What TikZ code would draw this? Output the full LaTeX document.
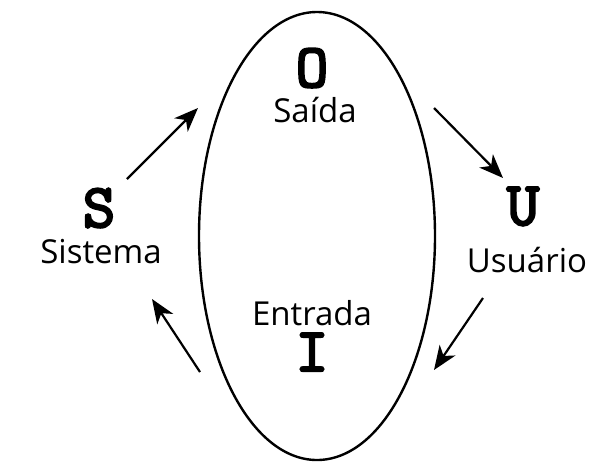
\documentclass[tikz,border=0pt]{standalone}
\usepackage{fontspec}
\setmainfont{Open Sans}
\newfontfamily\letterfont{lmmono10-regular.otf}[FakeBold=3.5]
\usetikzlibrary{arrows.meta}
\tikzset{
  letter/.style={font=\fontsize{62}{62}\selectfont\letterfont, inner sep=0pt,
    anchor=base, text height=33pt, text depth=0pt},
  word/.style={font=\fontsize{33}{33}\selectfont, inner sep=0pt, anchor=base,
    text depth=0pt},
  flow/.style={line width=2.2pt, -{Stealth[length=24pt,width=19pt,inset=7pt]}},
}
\begin{document}
\begin{tikzpicture}[x=1pt,y=-1pt]
  \useasboundingbox (0,0) rectangle (593,464);
  \draw[line width=2.4pt] (317,236) ellipse [x radius=118, y radius=224];
  % output
  \node[letter] (o) at (312,87) {O};
  \node[word] (sai) at (315,122) {Saída};
  % system
  \node[letter] (s) at (99,227) {S};
  \node[word] (sis) at (101,263) {Sistema};
  % user
  \node[letter] (u) at (523,225) {U};
  \node[word] (usu) at (527,272) {Usuário};
  % input
  \node[word] (ent) at (312,325) {Entrada};
  \node[letter] (i) at (312,371) {I};
  % cycle arrows
  \coordinate (a1) at (127,179); \coordinate (b1) at (198,108);
  \coordinate (a2) at (434,108); \coordinate (b2) at (503,178);
  \coordinate (a3) at (483,298); \coordinate (b3) at (434,370);
  \coordinate (a4) at (200,372); \coordinate (b4) at (152,299);
  \draw[flow] (a1) -- (b1);
  \draw[flow] (a2) -- (b2);
  \draw[flow] (a3) -- (b3);
  \draw[flow] (a4) -- (b4);
\end{tikzpicture}
\end{document}
